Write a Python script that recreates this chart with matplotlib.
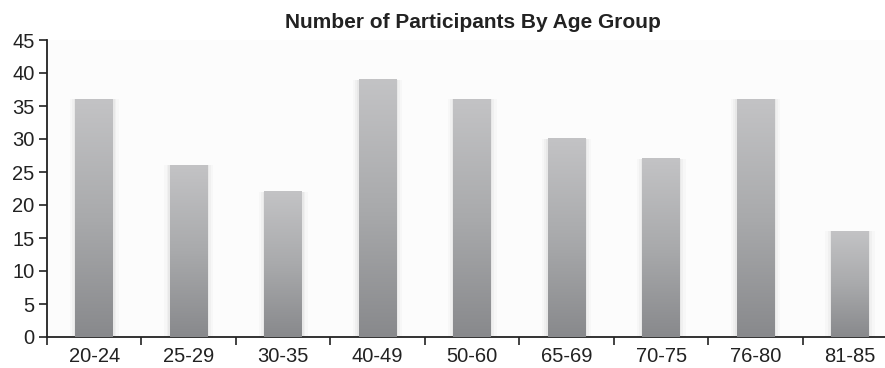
import numpy as np
import matplotlib.pyplot as plt
from matplotlib.colors import LinearSegmentedColormap

age_groups = ["20-24", "25-29", "30-35", "40-49", "50-60", "65-69", "70-75", "76-80", "81-85"]
participants = [36, 26, 22, 39, 36, 30, 27, 36, 16]

plt.rcParams["font.family"] = ["Liberation Sans", "DejaVu Sans"]

fig = plt.figure(figsize=(8.85, 3.68), dpi=100)
ax = fig.add_axes([47 / 885, 31 / 368, 1 - 47 / 885, 297 / 368])
ax.set_facecolor("#fcfcfc")

width = 0.40
x = np.arange(len(age_groups))

# grey gradient running from light at the top of each bar to dark at the base
grad_cmap = LinearSegmentedColormap.from_list("bar_grad", ["#88898c", "#a9aaac", "#c3c3c5"])
grad = np.linspace(0, 1, 256).reshape(-1, 1)

bars = ax.bar(x, participants, width=width, color="none", zorder=2)
for rect, val in zip(bars, participants):
    x0 = rect.get_x()
    # soft halo along the bar edges
    for k, a in [(0.06, 0.05), (0.035, 0.07), (0.015, 0.09)]:
        ax.bar(rect.get_x() + width / 2, val, width=width + 2 * k, color="#9a9a9a",
               alpha=a, linewidth=0, zorder=1)
    ax.imshow(grad, cmap=grad_cmap, origin="lower", aspect="auto",
              extent=(x0, x0 + width, 0, val), zorder=3, interpolation="bilinear")

ax.set_xlim(-0.5, 8.37)
ax.set_ylim(0, 45)
ax.set_yticks(range(0, 46, 5))
ax.set_xticks(x)
ax.set_xticklabels(age_groups)
ax.set_xticks(np.arange(-0.5, 8.5, 1), minor=True)
ax.tick_params(axis="x", which="major", length=0, labelsize=14.5, pad=7, colors="#222222")
ax.tick_params(axis="x", which="minor", length=6, width=1.2, color="#222222")
ax.tick_params(axis="y", length=6, width=1.2, labelsize=14.5, pad=3, colors="#222222")

for side in ["top", "right"]:
    ax.spines[side].set_visible(False)
for side in ["left", "bottom"]:
    ax.spines[side].set_linewidth(1.3)
    ax.spines[side].set_color("#222222")

fig.text(0.534, 0.94, "Number of Participants By Age Group", ha="center", va="center",
         fontsize=15, fontweight="bold", color="#222222")

fig.savefig("out.png", dpi=100, facecolor="white")
